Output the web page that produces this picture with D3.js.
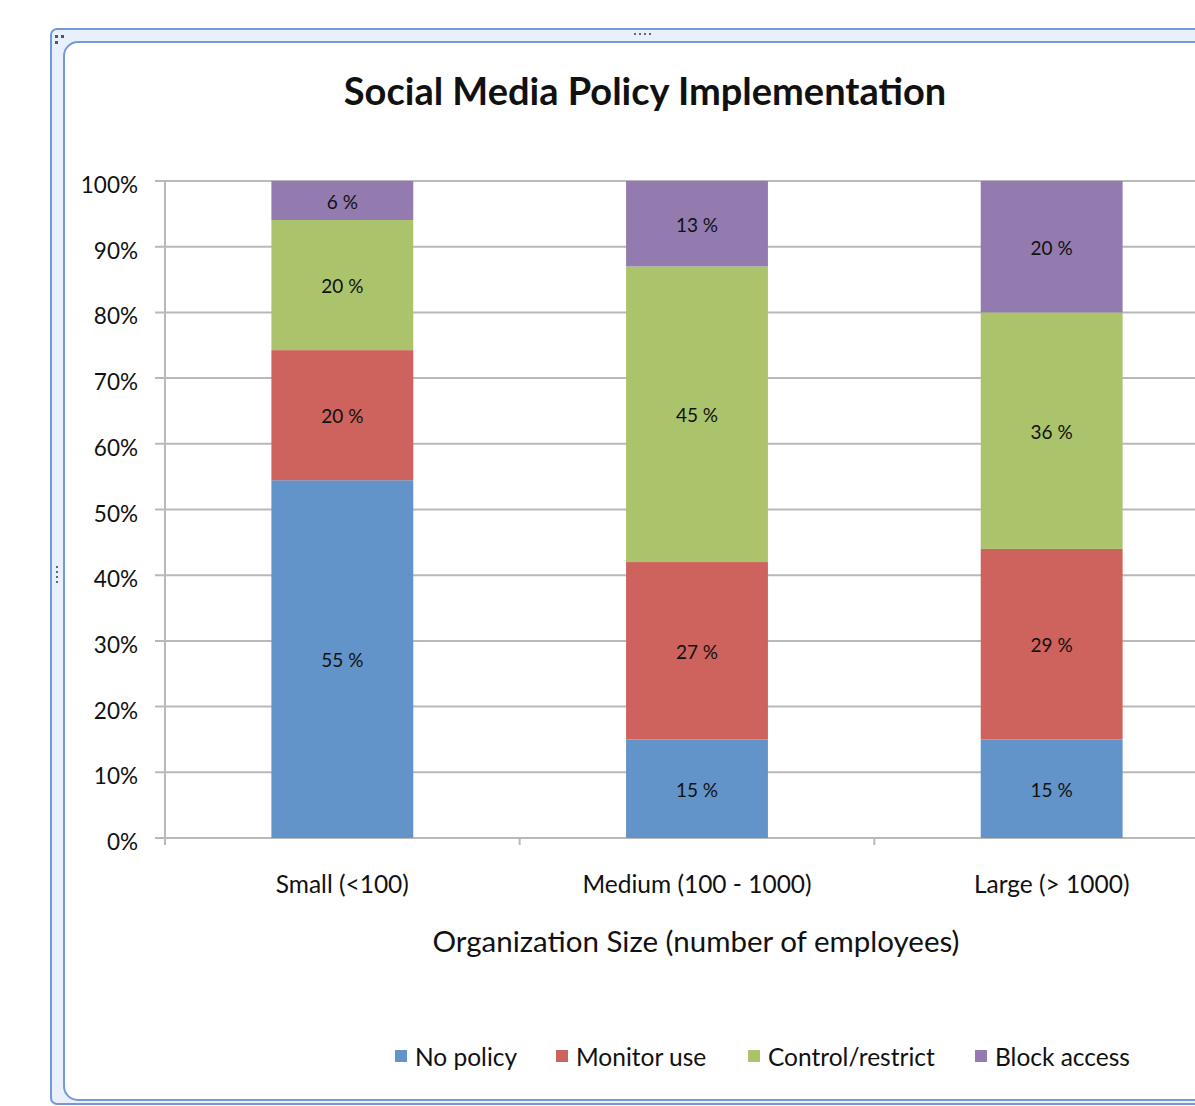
<!DOCTYPE html>
<html>
<head>
<meta charset="utf-8">
<script src="https://cdn.jsdelivr.net/npm/d3@7"></script>
<style>
  body { margin: 0; background: #fff; }
  svg { display: block; }
  text { font-family: Lato, "Open Sans", sans-serif; fill: #111; }
</style>
</head>
<body>
<svg id="chart" width="1195" height="1106"></svg>
<script>
// chart data
const categories = ["Small (<100)", "Medium (100 - 1000)", "Large (> 1000)"];
const seriesNames = ["No policy", "Monitor use", "Control/restrict", "Block access"];
const noPolicy = [55, 15, 15];
const monitorUse = [20, 27, 29];
const controlRestrict = [20, 45, 36];
const blockAccess = [6, 13, 20];
const yTicks = [0, 0.1, 0.2, 0.3, 0.4, 0.5, 0.6, 0.7, 0.8, 0.9, 1];
const colors = ["#6394c9", "#ce625c", "#abc46c", "#937bb0"];

const svg = d3.select("#chart");

// frame around the chart (Excel chart object border)
const frame = svg.append("g");
frame.append("rect").attr("x", 51).attr("y", 29).attr("width", 1200).attr("height", 1075)
  .attr("rx", 6).attr("fill", "#e8f0fb").attr("stroke", "#7398dc").attr("stroke-width", 2);
frame.append("rect").attr("x", 64).attr("y", 42).attr("width", 1180).attr("height", 1058)
  .attr("rx", 14).attr("fill", "#fff").attr("stroke", "#7398dc").attr("stroke-width", 2);
// little resize handles
[[55, 35], [61, 35], [55, 41]].forEach(p => frame.append("rect").attr("x", p[0]).attr("y", p[1])
  .attr("width", 3).attr("height", 3).attr("fill", "#555"));
d3.range(4).forEach(i => frame.append("rect").attr("x", 634 + i * 5).attr("y", 33)
  .attr("width", 2).attr("height", 2).attr("fill", "#666"));
d3.range(4).forEach(i => frame.append("rect").attr("x", 56).attr("y", 566 + i * 5)
  .attr("width", 2).attr("height", 2).attr("fill", "#666"));

const rows = categories.map((c, i) => ({
  cat: c,
  "No policy": noPolicy[i],
  "Monitor use": monitorUse[i],
  "Control/restrict": controlRestrict[i],
  "Block access": blockAccess[i]
}));

const stacked = d3.stack().keys(seriesNames).offset(d3.stackOffsetExpand)(rows);

const x = d3.scaleBand().domain(categories).range([165, 1229]).paddingInner(0.6).paddingOuter(0.3);
const y = d3.scaleLinear().domain([0, 1]).range([838, 181]);

// gridlines
svg.append("g").selectAll("line").data(yTicks).join("line")
  .attr("x1", 155).attr("x2", 1195)
  .attr("y1", d => y(d)).attr("y2", d => y(d))
  .attr("stroke", "#b9b9b9").attr("stroke-width", 2);

// y axis line
svg.append("line").attr("x1", 165).attr("x2", 165).attr("y1", y(1)).attr("y2", y(0) + 6)
  .attr("stroke", "#b9b9b9").attr("stroke-width", 2);

// category separators on x axis
const step = x.step();
svg.append("g").selectAll("line").data(d3.range(categories.length + 1)).join("line")
  .attr("x1", i => 165 + i * step).attr("x2", i => 165 + i * step)
  .attr("y1", y(0)).attr("y2", y(0) + 7)
  .attr("stroke", "#b9b9b9").attr("stroke-width", 2);

// y tick labels
svg.append("g").selectAll("text").data(yTicks).join("text")
  .attr("x", 138).attr("y", d => y(d) + 12)
  .attr("text-anchor", "end").attr("font-size", 22.5)
  .text(d3.format(".0%"));

// bars
const layers = svg.append("g").selectAll("g").data(stacked).join("g")
  .attr("fill", (d, i) => colors[i]);
layers.selectAll("rect").data(d => d).join("rect")
  .attr("x", d => x(d.data.cat))
  .attr("width", x.bandwidth())
  .attr("y", d => y(d[1]))
  .attr("height", d => y(d[0]) - y(d[1]));

// data labels
stacked.forEach(layer => {
  svg.append("g").selectAll("text").data(layer).join("text")
    .attr("x", d => x(d.data.cat) + x.bandwidth() / 2)
    .attr("y", d => (y(d[0]) + y(d[1])) / 2 + 8)
    .attr("text-anchor", "middle").attr("font-size", 19)
    .text(d => d.data[layer.key] + " %");
});

// category labels
svg.append("g").selectAll("text").data(categories).join("text")
  .attr("x", d => x(d) + x.bandwidth() / 2).attr("y", 893)
  .attr("text-anchor", "middle").attr("font-size", 24.5)
  .text(d => d);

// title and axis title
svg.append("text").attr("x", 645).attr("y", 105).attr("text-anchor", "middle")
  .attr("font-size", 38).attr("font-weight", "bold")
  .text("Social Media Policy Implementation");
svg.append("text").attr("x", 696).attr("y", 952).attr("text-anchor", "middle")
  .attr("font-size", 29.5)
  .text("Organization Size (number of employees)");

// legend
const legendX = [395, 556, 748, 975];
const legend = svg.append("g").selectAll("g").data(seriesNames).join("g")
  .attr("transform", (d, i) => `translate(${legendX[i]},1050)`);
legend.append("rect").attr("width", 12).attr("height", 12).attr("fill", (d, i) => colors[i]);
legend.append("text").attr("x", 20).attr("y", 16).attr("font-size", 24.5).text(d => d);
</script>
</body>
</html>
